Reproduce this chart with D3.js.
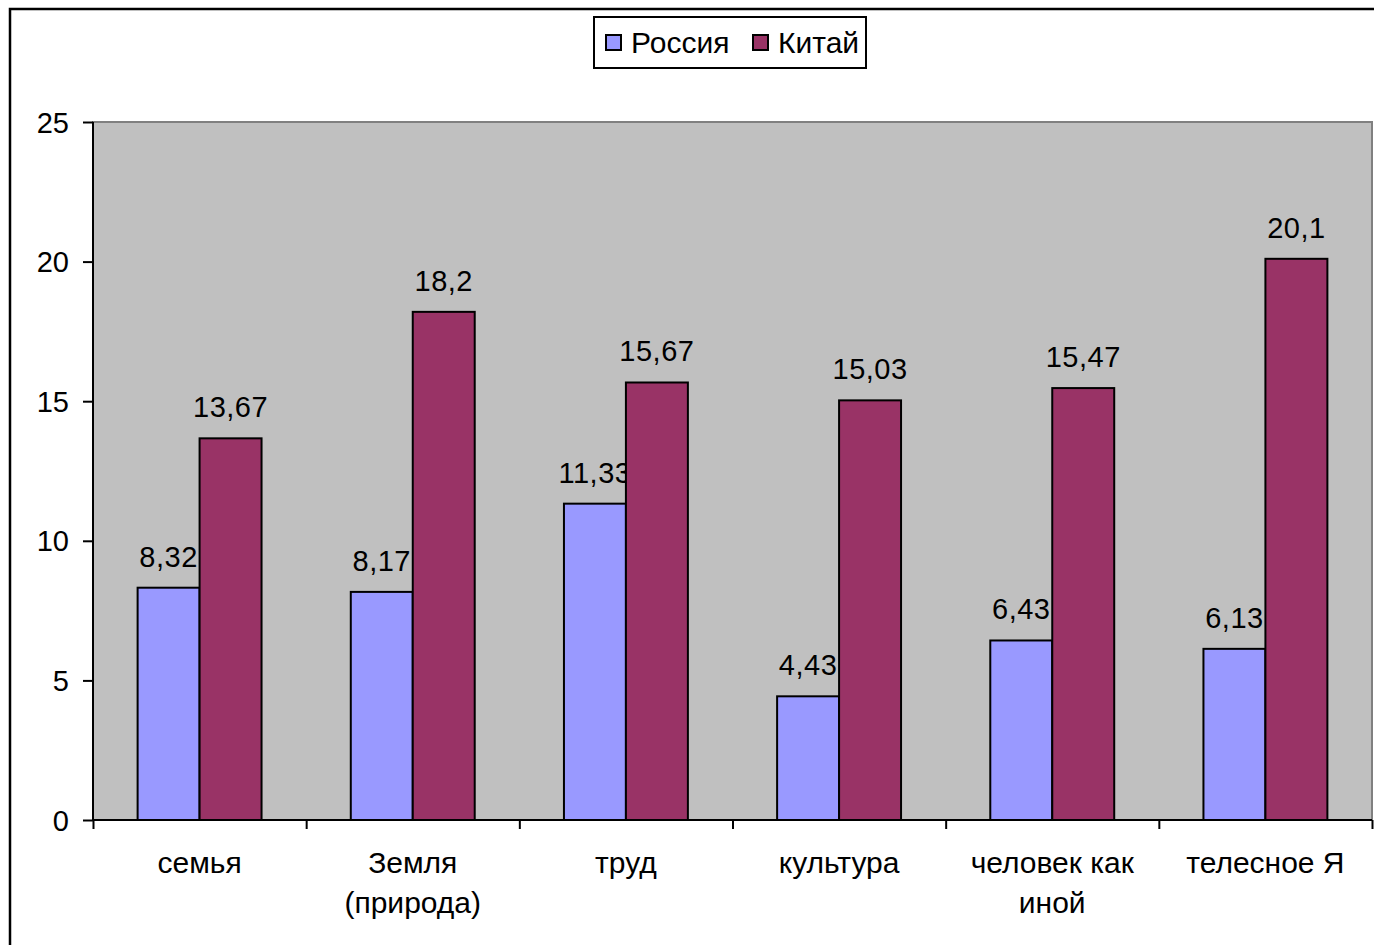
<!DOCTYPE html>
<html><head><meta charset="utf-8">
<script src="https://cdn.jsdelivr.net/npm/d3@7"></script>
<style>body{margin:0;background:#fff;}svg{display:block;font-family:"Liberation Sans",Arial,sans-serif;}</style>
</head><body>
<svg id="c" width="1374" height="945"></svg>
<script>
const categories = [["семья"],["Земля","(природа)"],["труд"],["культура"],["человек как","иной"],["телесное Я"]];
const seriesNames = ["Россия","Китай"];
const russia = [8.32, 8.17, 11.33, 4.43, 6.43, 6.13];
const china = [13.67, 18.2, 15.67, 15.03, 15.47, 20.1];
const yTicks = [0,5,10,15,20,25];
const colors = ["#9999FF","#993366"];

const svg = d3.select("#c");
// outer frame
svg.append("rect").attr("x",10).attr("y",9).attr("width",1380).attr("height",960)
  .attr("fill","none").attr("stroke","#000").attr("stroke-width",2.5);

const L=93, R=1372, T=122, B=820;
const x = d3.scaleBand().domain(d3.range(categories.length)).range([L,R]).paddingInner(0).paddingOuter(0);
const y = d3.scaleLinear().domain([0,25]).range([B,T]);
const inner = d3.scaleBand().domain([0,1]).range([0,x.bandwidth()]).paddingOuter(0.72).paddingInner(0);

svg.append("rect").attr("x",L).attr("y",T).attr("width",R-L).attr("height",B-T)
  .attr("fill","#C0C0C0").attr("stroke","#808080").attr("stroke-width",2);

const data = [russia, china];
const fmt = v => String(v).replace(".",",");
data.forEach((vals,si)=>{
  const g = svg.append("g");
  g.selectAll("rect").data(vals).join("rect")
    .attr("x",(d,i)=>x(i)+inner(si)).attr("y",d=>y(d))
    .attr("width",inner.bandwidth()).attr("height",d=>B-y(d))
    .attr("fill",colors[si]).attr("stroke","#000").attr("stroke-width",2);
  g.selectAll("text").data(vals).join("text")
    .attr("x",(d,i)=>x(i)+inner(si)+inner.bandwidth()/2).attr("y",d=>y(d)-21)
    .attr("text-anchor","middle").attr("font-size",29).attr("letter-spacing",0.5).attr("fill","#000")
    .text(fmt);
});

// y axis
const ya = svg.append("g").attr("transform",`translate(${L},0)`)
  .call(d3.axisLeft(y).tickValues(yTicks).tickSize(10).tickPadding(14).tickFormat(d=>d));
ya.select(".domain").attr("stroke","#000").attr("stroke-width",2).attr("d",`M0,${T}V${B}`);
ya.selectAll(".tick line").attr("stroke","#000").attr("stroke-width",2);
ya.selectAll(".tick text").attr("font-size",29).attr("fill","#000").attr("font-family","Liberation Sans, Arial, sans-serif").attr("dy","0.35em");

// x axis
const xb = d3.scaleLinear().domain([0,categories.length]).range([L,R]);
const xa = svg.append("g").attr("transform",`translate(0,${B})`)
  .call(d3.axisBottom(xb).tickValues(d3.range(categories.length+1)).tickSize(9).tickFormat(""));
xa.select(".domain").attr("stroke","#000").attr("stroke-width",2).attr("d",`M${L},0H${R}`);
xa.selectAll(".tick line").attr("stroke","#000").attr("stroke-width",2);

categories.forEach((lines,i)=>{
  const t = svg.append("text").attr("x",x(i)+x.bandwidth()/2).attr("y",873)
    .attr("text-anchor","middle").attr("font-size",30).attr("fill","#000");
  lines.forEach((ln,j)=>t.append("tspan").attr("x",x(i)+x.bandwidth()/2).attr("dy",j?40:0).text(ln));
});

// legend
const lg = svg.append("g");
lg.append("rect").attr("x",594).attr("y",17).attr("width",272).attr("height",51)
  .attr("fill","#fff").attr("stroke","#000").attr("stroke-width",2);
const lx = [606, 753];
seriesNames.forEach((n,i)=>{
  lg.append("rect").attr("x",lx[i]).attr("y",35).attr("width",15).attr("height",15)
    .attr("fill",colors[i]).attr("stroke","#000").attr("stroke-width",2);
  lg.append("text").attr("x",lx[i]+25).attr("y",53).attr("font-size",30).attr("fill","#000").text(n);
});
</script>
</body></html>
